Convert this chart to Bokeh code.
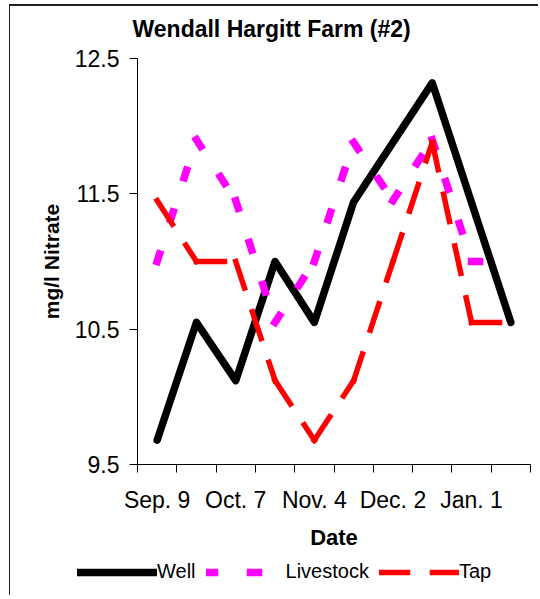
from bokeh.plotting import figure
from bokeh.layouts import column
from bokeh.models import FixedTicker, Range1d, Legend, LegendItem, ColumnDataSource, Label
from bokeh.embed import file_html
from bokeh.resources import INLINE

# ---- data ----
title_text = "Wendall Hargitt Farm (#2)"
x_label = "Date"
y_label = "mg/l Nitrate"
sample_index = [0, 1, 2, 3, 4, 5, 6, 7, 8, 9]
date_label_index = [0, 2, 4, 6, 8]
date_labels = ["Sep. 9", "Oct. 7", "Nov. 4", "Dec. 2", "Jan. 1"]
well = [9.68, 10.55, 10.12, 11.0, 10.55, 11.44, None, 12.32, None, 10.55]
livestock = [11.0, 11.9, 11.45, 10.55, 11.0, 11.88, 11.45, 11.9, 11.0, 11.0]
tap = [11.45, 11.0, 11.0, 10.12, 9.68, 10.12, 11.0, 11.88, 10.55, 10.55]
y_ticks = [9.5, 10.5, 11.5, 12.5]
series_names = ["Well", "Livestock", "Tap"]

FONT = "Liberation Sans"
WELL_STYLE = dict(line_color="black", line_width=7.5, line_join="round", line_cap="round")
LIVE_STYLE = dict(line_color="#FF00FF", line_width=7.5, line_dash="8 36", line_cap="square")
TAP_STYLE = dict(line_color="#FF0000", line_width=5.5, line_dash="28 25", line_cap="square")

# ---- title strip ----
t = figure(width=528, height=38, output_backend="svg", toolbar_location=None,
           x_range=Range1d(0, 1), y_range=Range1d(0, 1),
           x_axis_type=None, y_axis_type=None, min_border=0)
t.frame_align = False
t.outline_line_color = None
t.grid.visible = False
t.add_layout(Label(x=122, y=16, x_units="screen", y_units="screen",
                   text=title_text, text_font=FONT, text_font_style="bold",
                   text_font_size="23px", text_color="black",
                   text_align="left", text_baseline="middle"))

# ---- main chart ----
p = figure(width=528, height=515, output_backend="svg", toolbar_location=None,
           x_range=Range1d(-0.5, 9.5), y_range=Range1d(9.5, 12.5),
           min_border_left=127, min_border_right=8, min_border_top=14,
           min_border_bottom=95)
p.frame_align = False
p.outline_line_color = None
p.xgrid.visible = False
p.ygrid.visible = False

# y axis
ya = p.yaxis[0]
ya.ticker = FixedTicker(ticks=y_ticks, minor_ticks=[])
ya.major_label_overrides = {t_: str(t_) for t_ in y_ticks}
ya.major_tick_out = 8
ya.major_tick_in = 0
ya.minor_tick_out = 0
ya.minor_tick_in = 0
ya.major_label_standoff = 10
ya.major_label_text_font = FONT
ya.major_label_text_font_size = "23px"
ya.major_label_text_color = "black"
ya.axis_label = y_label
ya.axis_label_text_font = FONT
ya.axis_label_text_font_style = "bold"
ya.axis_label_text_font_size = "21px"
ya.axis_label_text_color = "black"
ya.axis_label_standoff = 9
ya.axis_line_color = "black"
ya.major_tick_line_color = "black"

# x axis: labels at every other sample, tick marks at category boundaries
boundaries = [i - 0.5 for i in range(len(sample_index) + 1)]
xa = p.xaxis[0]
xa.ticker = FixedTicker(ticks=date_label_index, minor_ticks=boundaries)
xa.major_label_overrides = dict(zip(date_label_index, date_labels))
xa.major_tick_out = 0
xa.major_tick_in = 0
xa.minor_tick_out = 8
xa.minor_tick_in = 0
xa.minor_tick_line_color = "black"
xa.major_label_standoff = 14
xa.major_label_text_font = FONT
xa.major_label_text_font_size = "23px"
xa.major_label_text_color = "black"
xa.axis_label = x_label
xa.axis_label_text_font = FONT
xa.axis_label_text_font_style = "bold"
xa.axis_label_text_font_size = "22px"
xa.axis_label_text_color = "black"
xa.axis_label_standoff = 9
xa.axis_line_color = "black"

# Well: solid black line through the available samples
wx = [x for x, v in zip(sample_index, well) if v is not None]
wy = [v for v in well if v is not None]
p.line(wx, wy, **WELL_STYLE)

# dashed series drawn as segments (dash pattern restarts at each vertex)
def seg_source(vals):
    return ColumnDataSource(dict(x0=sample_index[:-1], y0=vals[:-1],
                                 x1=sample_index[1:], y1=vals[1:]))

p.segment("x0", "y0", "x1", "y1", source=seg_source(livestock), **LIVE_STYLE)
p.segment("x0", "y0", "x1", "y1", source=seg_source(tap), **TAP_STYLE)

# ---- legend strip below the chart ----
q = figure(width=528, height=36, output_backend="svg", toolbar_location=None,
           x_range=Range1d(0, 1), y_range=Range1d(0, 1),
           x_axis_type=None, y_axis_type=None, min_border=0)
q.frame_align = False
q.outline_line_color = None
q.grid.visible = False
nan = float("nan")
lw = q.line([nan], [nan], **WELL_STYLE)
proxy = ColumnDataSource(dict(x0=[nan], y0=[nan], x1=[nan], y1=[nan]))
ll = q.segment("x0", "y0", "x1", "y1", source=proxy, **LIVE_STYLE)
lt = q.segment("x0", "y0", "x1", "y1", source=proxy, **TAP_STYLE)
legend = Legend(items=[LegendItem(label=series_names[0], renderers=[lw]),
                       LegendItem(label=series_names[1], renderers=[ll]),
                       LegendItem(label=series_names[2], renderers=[lt])],
                orientation="horizontal", location=(67, 12),
                glyph_width=80, glyph_height=20, label_standoff=0, spacing=10,
                padding=0, margin=0, border_line_color=None,
                background_fill_alpha=0, label_text_font=FONT,
                label_text_font_size="20px", label_text_color="black",
                label_height=20)
q.add_layout(legend, "center")

layout = column(t, p, q, spacing=0)
layout.margin = (4, 0, 0, 9)
layout.styles = {"border-left": "1px solid #222", "border-top": "2px solid #222"}

open("out.html", "w").write(file_html(layout, INLINE))
